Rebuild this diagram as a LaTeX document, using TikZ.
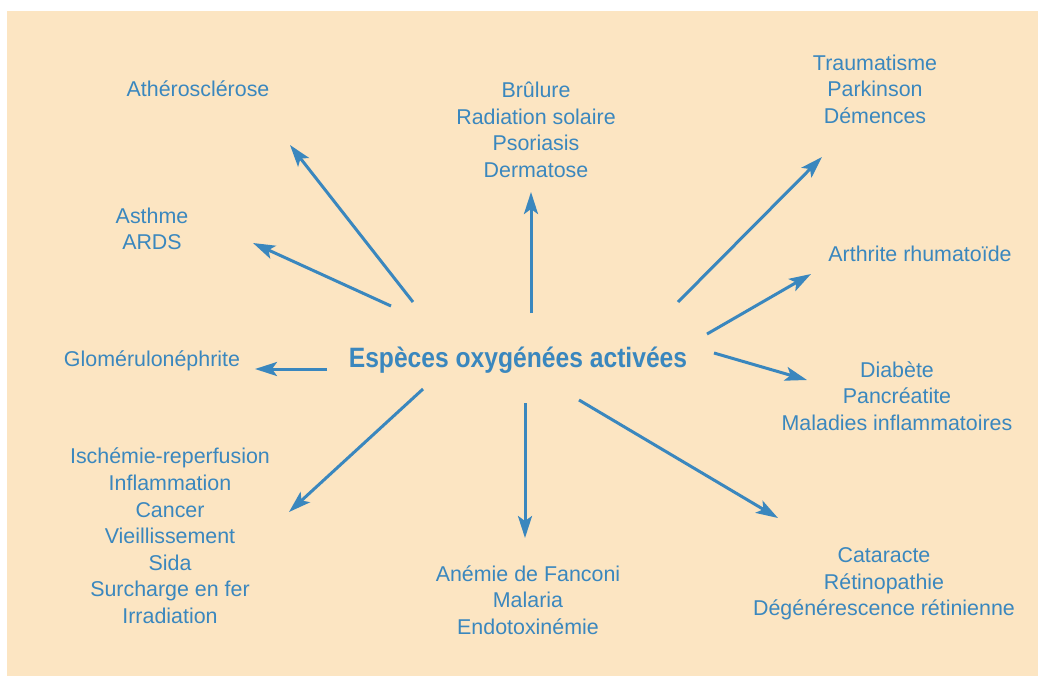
\documentclass[tikz,border=0pt]{standalone}
\usepackage{fontspec}
\setmainfont{Liberation Sans}
\newfontfamily\titlefont[FakeStretch=0.88]{Liberation Sans}
\usetikzlibrary{arrows.meta}

\definecolor{peach}{RGB}{252,229,194}
\definecolor{roxblue}{RGB}{58,135,190}

\tikzset{
  disease/.style={align=center, text=roxblue, inner sep=0pt,
    font=\fontsize{10.7}{13.3}\selectfont},
  ros arrow/.style={-{Stealth[length=11pt, width=7pt, inset=2.5pt]},
    line width=1.5pt, roxblue}
}

\begin{document}
\begin{tikzpicture}[x=0.5pt, y=-0.5pt]
  % Background panel
  \useasboundingbox (0,0) rectangle (1038,676);
  \fill[peach] (7,11) rectangle (1038,676);

  % Central term
  \node[text=roxblue, inner sep=0pt,
    font=\titlefont\bfseries\fontsize{14}{16}\selectfont] (eoa) at (518,360)
    {Espèces oxygénées activées};

  % Diseases, left side
  \node[disease] (athero) at (198,89) {Athérosclérose};
  \node[disease] (asthme) at (152,229) {Asthme\\ARDS};
  \node[disease] (glomerulo) at (152,361) {Glomérulonéphrite};
  \node[disease] (ischemie) at (170,536) {Ischémie-reperfusion\\Inflammation\\Cancer\\Vieillissement\\Sida\\Surcharge en fer\\Irradiation};

  % Diseases, top and bottom
  \node[disease] (brulure) at (536,130) {Brûlure\\Radiation solaire\\Psoriasis\\Dermatose};
  \node[disease] (anemie) at (528,600) {Anémie de Fanconi\\Malaria\\Endotoxinémie};

  % Diseases, right side
  \node[disease] (trauma) at (875,89) {Traumatisme\\Parkinson\\Démences};
  \node[disease] (arthrite) at (920,254) {Arthrite rhumatoïde};
  \node[disease] (diabete) at (897,396) {Diabète\\Pancréatite\\Maladies inflammatoires};
  \node[disease] (cataracte) at (884,584) {Cataracte\\Rétinopathie\\Dégénérescence rétinienne};

  % Arrow ends (the arrows stop short of the texts)
  \coordinate (athero tail) at (413,302);    \coordinate (athero head) at (290,145);
  \coordinate (asthme tail) at (391,306);    \coordinate (asthme head) at (253,243);
  \coordinate (glomerulo tail) at (327,369); \coordinate (glomerulo head) at (255,369);
  \coordinate (ischemie tail) at (423,389);  \coordinate (ischemie head) at (289,512);
  \coordinate (brulure tail) at (531,313);   \coordinate (brulure head) at (531,192);
  \coordinate (anemie tail) at (525,403);    \coordinate (anemie head) at (525,538);
  \coordinate (trauma tail) at (678,302);    \coordinate (trauma head) at (822,157);
  \coordinate (arthrite tail) at (707,334);  \coordinate (arthrite head) at (811,274);
  \coordinate (diabete tail) at (714,353);   \coordinate (diabete head) at (807,380);
  \coordinate (cataracte tail) at (579,400); \coordinate (cataracte head) at (778,518);

  % Arrows
  \foreach \d in {athero, asthme, glomerulo, ischemie, brulure,
                  anemie, trauma, arthrite, diabete, cataracte}
    \draw[ros arrow] (\d\space tail) -- (\d\space head);
\end{tikzpicture}
\end{document}
